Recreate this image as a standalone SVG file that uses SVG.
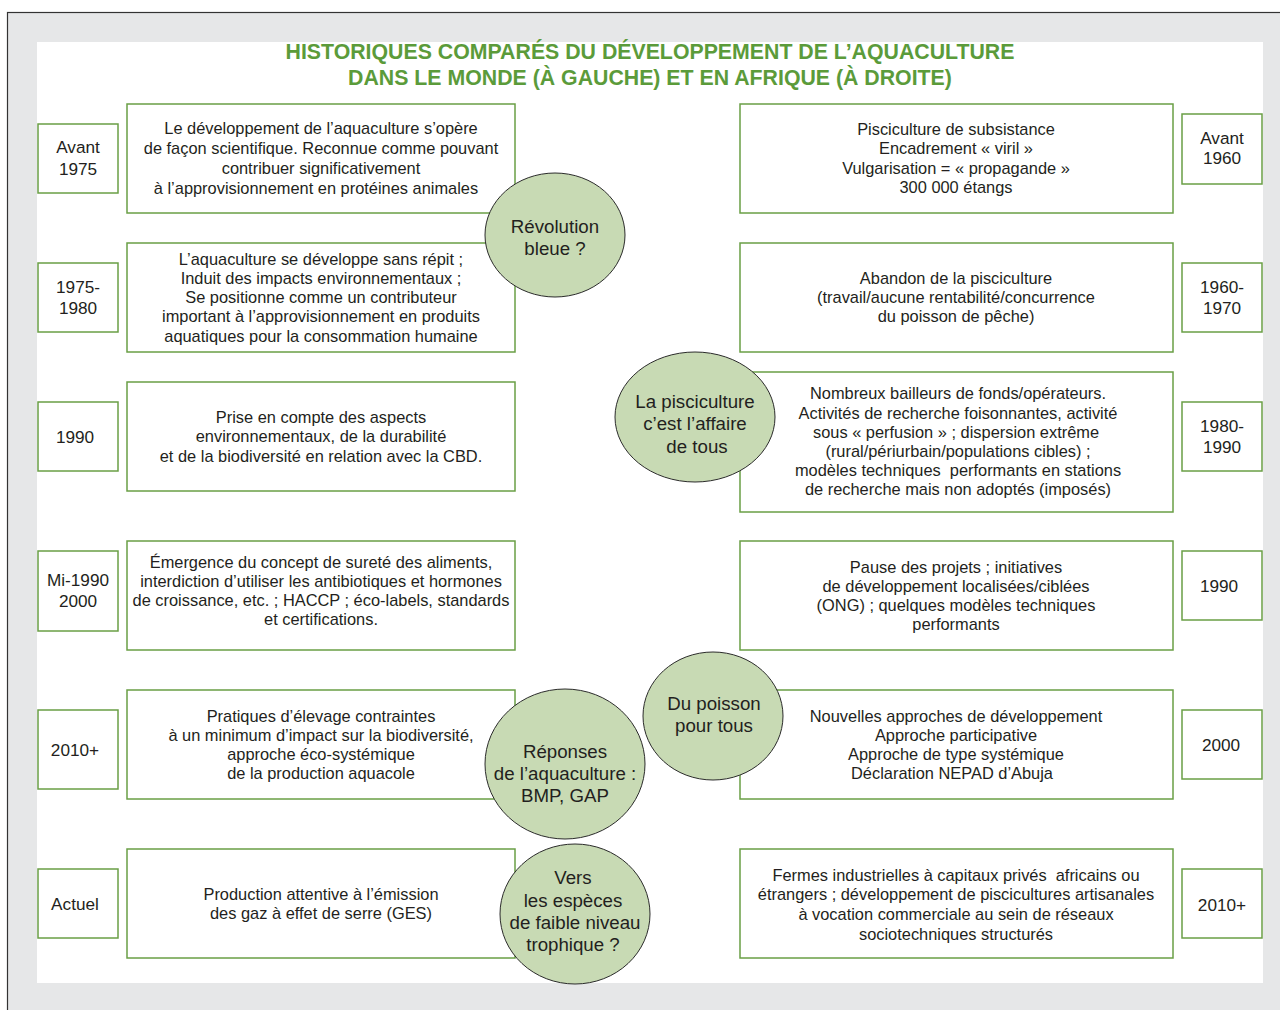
<svg xmlns="http://www.w3.org/2000/svg" width="1280" height="1010" viewBox="0 0 1280 1010">
  <style>
    text { font-family: "Liberation Sans", Arial, Helvetica, sans-serif; fill: #231f20; text-anchor: middle; }
    .title { font-weight: bold; font-size: 21.3px; fill: #5b9b3a; }
    .box { fill: #ffffff; stroke: #6a9f45; stroke-width: 1.5; }
    .yr { fill: #ffffff; stroke: #6a9f45; stroke-width: 1.5; }
    .t { font-size: 16.4px; }
    .pre { white-space: pre; }
    .y { font-size: 17.2px; }
    .bubble { fill: #c8dab4; stroke: #2b2b2b; stroke-width: 1; }
    .c { font-size: 18.7px; }
  </style>

  <!-- frame -->
  <rect x="7.5" y="12.5" width="1290" height="1010" fill="#e6e7e8" stroke="#333333" stroke-width="1.2"/>
  <rect x="37" y="42" width="1226" height="941" fill="#ffffff"/>

  <!-- heading -->
  <g id="title">
    <text class="title" x="650" y="59">HISTORIQUES COMPARÉS DU DÉVELOPPEMENT DE L’AQUACULTURE</text>
    <text class="title" x="650" y="85">DANS LE MONDE (À GAUCHE) ET EN AFRIQUE (À DROITE)</text>
  </g>

  <!-- world timeline (left) -->
  <g id="w1">
    <rect class="yr" x="38" y="124" width="80" height="69"/>
    <text class="y" x="78" y="153">Avant</text>
    <text class="y" x="78" y="175">1975</text>
    <rect class="box" x="127" y="104" width="388" height="109"/>
    <text class="t" x="321" y="134">Le développement de l’aquaculture s’opère</text>
    <text class="t" x="321" y="154">de façon scientifique. Reconnue comme pouvant</text>
    <text class="t" x="321" y="174">contribuer significativement</text>
    <text class="t" x="316" y="194">à l’approvisionnement en protéines animales</text>
  </g>
  <g id="w2">
    <rect class="yr" x="38" y="263" width="80" height="69"/>
    <text class="y" x="78" y="293">1975-</text>
    <text class="y" x="78" y="314">1980</text>
    <rect class="box" x="127" y="243" width="388" height="109"/>
    <text class="t" x="321" y="265">L’aquaculture se développe sans répit ;</text>
    <text class="t" x="321" y="284">Induit des impacts environnementaux ;</text>
    <text class="t" x="321" y="303">Se positionne comme un contributeur</text>
    <text class="t" x="321" y="322">important à l’approvisionnement en produits</text>
    <text class="t" x="321" y="342">aquatiques pour la consommation humaine</text>
  </g>
  <g id="w3">
    <rect class="yr" x="38" y="402" width="80" height="69"/>
    <text class="y" x="75" y="443">1990</text>
    <rect class="box" x="127" y="382" width="388" height="109"/>
    <text class="t" x="321" y="423">Prise en compte des aspects</text>
    <text class="t" x="321" y="442">environnementaux, de la durabilité</text>
    <text class="t" x="321" y="462">et de la biodiversité en relation avec la CBD.</text>
  </g>
  <g id="w4">
    <rect class="yr" x="38" y="551" width="80" height="80"/>
    <text class="y" x="78" y="586">Mi-1990</text>
    <text class="y" x="78" y="607">2000</text>
    <rect class="box" x="127" y="541" width="388" height="109"/>
    <text class="t" x="321" y="568">Émergence du concept de sureté des aliments,</text>
    <text class="t" x="321" y="587">interdiction d’utiliser les antibiotiques et hormones</text>
    <text class="t" x="321" y="606">de croissance, etc. ; HACCP ; éco-labels, standards</text>
    <text class="t" x="321" y="625">et certifications.</text>
  </g>
  <g id="w5">
    <rect class="yr" x="38" y="710" width="80" height="79"/>
    <text class="y" x="75" y="756">2010+</text>
    <rect class="box" x="127" y="690" width="388" height="109"/>
    <text class="t" x="321" y="722">Pratiques d’élevage contraintes</text>
    <text class="t" x="321" y="741">à un minimum d’impact sur la biodiversité,</text>
    <text class="t" x="321" y="760">approche éco-systémique</text>
    <text class="t" x="321" y="779">de la production aquacole</text>
  </g>
  <g id="w6">
    <rect class="yr" x="38" y="869" width="80" height="69"/>
    <text class="y" x="75" y="910">Actuel</text>
    <rect class="box" x="127" y="849" width="388" height="109"/>
    <text class="t" x="321" y="900">Production attentive à l’émission</text>
    <text class="t" x="321" y="919">des gaz à effet de serre (GES)</text>
  </g>

  <!-- Africa timeline (right) -->
  <g id="a1">
    <rect class="box" x="740" y="104" width="433" height="109"/>
    <text class="t" x="956" y="135">Pisciculture de subsistance</text>
    <text class="t" x="956" y="154">Encadrement « viril »</text>
    <text class="t" x="956" y="174">Vulgarisation = « propagande »</text>
    <text class="t" x="956" y="193">300 000 étangs</text>
    <rect class="yr" x="1182" y="114" width="80" height="70"/>
    <text class="y" x="1222" y="144">Avant</text>
    <text class="y" x="1222" y="164">1960</text>
  </g>
  <g id="a2">
    <rect class="box" x="740" y="243" width="433" height="109"/>
    <text class="t" x="956" y="284">Abandon de la pisciculture</text>
    <text class="t" x="956" y="303">(travail/aucune rentabilité/concurrence</text>
    <text class="t" x="956" y="322">du poisson de pêche)</text>
    <rect class="yr" x="1182" y="263" width="80" height="69"/>
    <text class="y" x="1222" y="293">1960-</text>
    <text class="y" x="1222" y="314">1970</text>
  </g>
  <g id="a3">
    <rect class="box" x="740" y="372" width="433" height="140"/>
    <text class="t" x="958" y="399">Nombreux bailleurs de fonds/opérateurs.</text>
    <text class="t" x="958" y="419">Activités de recherche foisonnantes, activité</text>
    <text class="t" x="956" y="438">sous « perfusion » ; dispersion extrême</text>
    <text class="t" x="958" y="457">(rural/périurbain/populations cibles) ;</text>
    <text class="t pre" x="958" y="476">modèles techniques  performants en stations</text>
    <text class="t" x="958" y="495">de recherche mais non adoptés (imposés)</text>
    <rect class="yr" x="1182" y="402" width="80" height="69"/>
    <text class="y" x="1222" y="432">1980-</text>
    <text class="y" x="1222" y="453">1990</text>
  </g>
  <g id="a4">
    <rect class="box" x="740" y="541" width="433" height="109"/>
    <text class="t" x="956" y="573">Pause des projets ; initiatives</text>
    <text class="t" x="956" y="592">de développement localisées/ciblées</text>
    <text class="t" x="956" y="611">(ONG) ; quelques modèles techniques</text>
    <text class="t" x="956" y="630">performants</text>
    <rect class="yr" x="1182" y="551" width="80" height="69"/>
    <text class="y" x="1219" y="592">1990</text>
  </g>
  <g id="a5">
    <rect class="box" x="740" y="690" width="433" height="109"/>
    <text class="t" x="956" y="722">Nouvelles approches de développement</text>
    <text class="t" x="956" y="741">Approche participative</text>
    <text class="t" x="956" y="760">Approche de type systémique</text>
    <text class="t" x="952" y="779">Déclaration NEPAD d’Abuja</text>
    <rect class="yr" x="1182" y="710" width="80" height="69"/>
    <text class="y" x="1221" y="751">2000</text>
  </g>
  <g id="a6">
    <rect class="box" x="740" y="849" width="433" height="109"/>
    <text class="t pre" x="956" y="881">Fermes industrielles à capitaux privés  africains ou</text>
    <text class="t" x="956" y="900">étrangers ; développement de piscicultures artisanales</text>
    <text class="t" x="956" y="920">à vocation commerciale au sein de réseaux</text>
    <text class="t" x="956" y="940">sociotechniques structurés</text>
    <rect class="yr" x="1182" y="869" width="80" height="69"/>
    <text class="y" x="1222" y="911">2010+</text>
  </g>

  <!-- milestone bubbles -->
  <g id="b-revolution">
    <ellipse class="bubble" cx="555" cy="235" rx="70" ry="62"/>
    <text class="c" x="555" y="233">Révolution</text>
    <text class="c" x="555" y="255">bleue ?</text>
  </g>
  <g id="b-pisciculture">
    <ellipse class="bubble" cx="695" cy="417" rx="80" ry="65"/>
    <text class="c" x="695" y="408">La pisciculture</text>
    <text class="c" x="695" y="430">c’est l’affaire</text>
    <text class="c" x="697" y="453">de tous</text>
  </g>
  <g id="b-poisson">
    <ellipse class="bubble" cx="713" cy="716" rx="70" ry="64"/>
    <text class="c" x="714" y="710">Du poisson</text>
    <text class="c" x="714" y="732">pour tous</text>
  </g>
  <g id="b-reponses">
    <ellipse class="bubble" cx="565" cy="764" rx="80" ry="75"/>
    <text class="c" x="565" y="758">Réponses</text>
    <text class="c" x="565" y="780">de l’aquaculture :</text>
    <text class="c" x="565" y="802">BMP, GAP</text>
  </g>
  <g id="b-especes">
    <ellipse class="bubble" cx="575" cy="914" rx="75" ry="70"/>
    <text class="c" x="573" y="884">Vers</text>
    <text class="c" x="573" y="907">les espèces</text>
    <text class="c" x="575" y="929">de faible niveau</text>
    <text class="c" x="573" y="951">trophique ?</text>
  </g>
</svg>
